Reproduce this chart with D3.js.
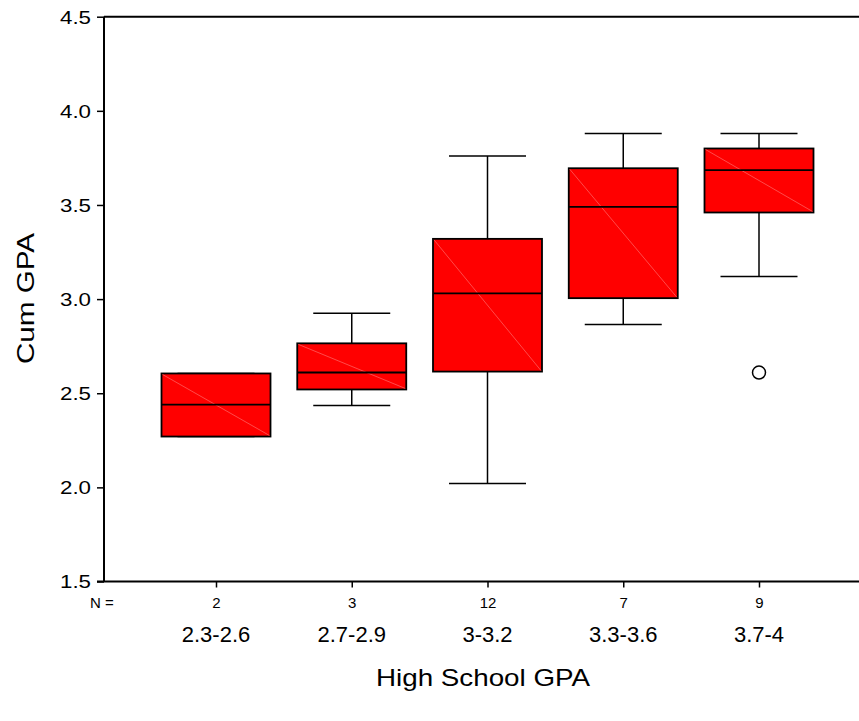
<!DOCTYPE html>
<html>
<head>
<meta charset="utf-8">
<script src="https://cdn.jsdelivr.net/npm/d3@7"></script>
<style>
  html, body { margin: 0; padding: 0; background: #fff; }
  svg { display: block; font-family: "Liberation Sans", Arial, sans-serif; }
</style>
</head>
<body>
<svg id="chart" width="859" height="721"></svg>
<script>
const categories = ["2.3-2.6", "2.7-2.9", "3-3.2", "3.3-3.6", "3.7-4"];
const counts = [2, 3, 12, 7, 9];
const whiskerLow = [2.27, 2.435, 2.02, 2.865, 3.12];
const q1 = [2.27, 2.52, 2.615, 3.005, 3.46];
const median = [2.44, 2.61, 3.03, 3.49, 3.685];
const q3 = [2.605, 2.765, 3.32, 3.695, 3.80];
const whiskerHigh = [2.605, 2.925, 3.76, 3.88, 3.88];
const outlierCats = ["3.7-4"];
const outlierValues = [2.61];
const yTicks = [1.5, 2.0, 2.5, 3.0, 3.5, 4.0, 4.5];

(function () {
const svg = d3.select("#chart");
const W = 859;
const plotLeft = 104, plotTop = 16.7, plotBottom = 581.5;

const x = d3.scalePoint().domain(categories).range([216, 759]);
const y = d3.scaleLinear().domain([1.5, 4.5]).range([plotBottom, plotTop]);

const boxHalf = 54.5, capHalf = 38.5;

const rows = categories.map((c, i) => ({
  c, n: counts[i], lo: whiskerLow[i], q1: q1[i], med: median[i], q3: q3[i], hi: whiskerHigh[i]
}));

// Y axis
const yAxis = d3.axisLeft(y).tickValues(yTicks).tickFormat(d3.format(".1f")).tickSize(7).tickPadding(6);
const gy = svg.append("g").attr("transform", `translate(${plotLeft},0)`).call(yAxis);
gy.select(".domain").remove();
gy.selectAll(".tick line").attr("stroke", "#000").attr("stroke-width", 1.5);
gy.selectAll(".tick text")
  .attr("fill", "#000")
  .attr("font-size", 18)
  .attr("textLength", 31)
  .attr("lengthAdjust", "spacingAndGlyphs")
  .attr("dy", "0.36em");

// X axis (ticks only)
const xAxis = d3.axisBottom(x).tickSize(6).tickFormat(d => counts[categories.indexOf(d)]).tickPadding(6);
const gx = svg.append("g").attr("transform", `translate(0,${plotBottom})`).call(xAxis);
gx.select(".domain").remove();
gx.selectAll(".tick line").attr("stroke", "#000").attr("stroke-width", 1.5);
gx.selectAll(".tick text").attr("fill", "#000").attr("font-size", 15).attr("y", 26).attr("dy", 0);

// Frame lines
svg.append("line").attr("x1", plotLeft).attr("x2", plotLeft).attr("y1", plotTop).attr("y2", plotBottom)
  .attr("stroke", "#000").attr("stroke-width", 2);
svg.append("line").attr("x1", plotLeft).attr("x2", W).attr("y1", plotTop).attr("y2", plotTop)
  .attr("stroke", "#000").attr("stroke-width", 2);
svg.append("line").attr("x1", plotLeft - 7).attr("x2", W).attr("y1", plotBottom).attr("y2", plotBottom)
  .attr("stroke", "#000").attr("stroke-width", 2);

// N =
svg.append("text").attr("x", 90).attr("y", plotBottom + 26).attr("font-size", 15).text("N =");

// Category labels
svg.append("g").selectAll("text").data(categories).join("text")
  .attr("x", d => x(d)).attr("y", 641.5)
  .attr("text-anchor", "middle").attr("font-size", 22)
  .text(d => d);

// Boxes
const g = svg.append("g");
const box = g.selectAll("g.box").data(rows).join("g").attr("class", "box");
box.append("line")
  .attr("x1", d => x(d.c)).attr("x2", d => x(d.c))
  .attr("y1", d => y(d.q3)).attr("y2", d => y(d.hi))
  .attr("stroke", "#000").attr("stroke-width", 1.5);
box.append("line")
  .attr("x1", d => x(d.c)).attr("x2", d => x(d.c))
  .attr("y1", d => y(d.q1)).attr("y2", d => y(d.lo))
  .attr("stroke", "#000").attr("stroke-width", 1.5);
box.append("line")
  .attr("x1", d => x(d.c) - capHalf).attr("x2", d => x(d.c) + capHalf)
  .attr("y1", d => y(d.hi)).attr("y2", d => y(d.hi))
  .attr("stroke", "#000").attr("stroke-width", 1.5);
box.append("line")
  .attr("x1", d => x(d.c) - capHalf).attr("x2", d => x(d.c) + capHalf)
  .attr("y1", d => y(d.lo)).attr("y2", d => y(d.lo))
  .attr("stroke", "#000").attr("stroke-width", 1.5);
box.append("rect")
  .attr("x", d => x(d.c) - boxHalf).attr("width", boxHalf * 2)
  .attr("y", d => y(d.q3)).attr("height", d => y(d.q1) - y(d.q3))
  .attr("fill", "#ff0000").attr("stroke", "#000").attr("stroke-width", 1.8);
box.append("line")
  .attr("x1", d => x(d.c) - boxHalf + 1).attr("x2", d => x(d.c) + boxHalf - 1)
  .attr("y1", d => y(d.q3) + 1).attr("y2", d => y(d.q1) - 1)
  .attr("stroke", "#ff6a6a").attr("stroke-width", 0.7);
box.append("line")
  .attr("x1", d => x(d.c) - boxHalf).attr("x2", d => x(d.c) + boxHalf)
  .attr("y1", d => y(d.med)).attr("y2", d => y(d.med))
  .attr("stroke", "#000").attr("stroke-width", 1.8);

// Outliers
svg.append("g").selectAll("circle").data(outlierValues).join("circle")
  .attr("cx", (d, i) => x(outlierCats[i]))
  .attr("cy", d => y(d))
  .attr("r", 6.5)
  .attr("fill", "none").attr("stroke", "#000").attr("stroke-width", 1.5);

// Axis titles
svg.append("text").attr("x", 483).attr("y", 686).attr("text-anchor", "middle")
  .attr("font-size", 24).attr("textLength", 214).attr("lengthAdjust", "spacingAndGlyphs")
  .text("High School GPA");
svg.append("text").attr("transform", "translate(34,298.5) rotate(-90)").attr("text-anchor", "middle")
  .attr("font-size", 24).attr("textLength", 131).attr("lengthAdjust", "spacingAndGlyphs")
  .text("Cum GPA");
})();
</script>
</body>
</html>
